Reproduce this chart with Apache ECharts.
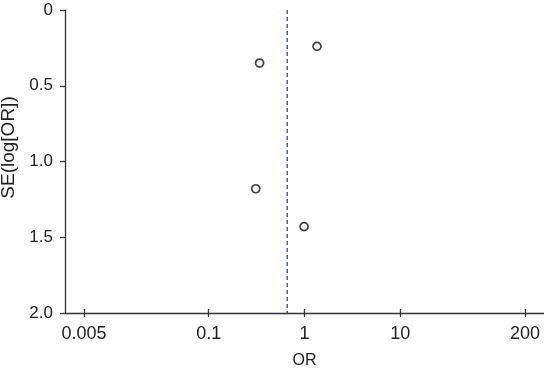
<!DOCTYPE html>
<html>
<head>
<meta charset="utf-8">
<script src="https://cdn.jsdelivr.net/npm/echarts@6/dist/echarts.min.js"></script>
<style>
html, body { margin: 0; padding: 0; background: #fff; }
#chart { width: 544px; height: 373px; }
</style>
</head>
<body>
<div id="chart"></div>
<script>
// funnel plot data (odds ratio vs standard error)
var studyOR = [1.35, 0.34, 0.31, 0.99];
var studySE = [0.24, 0.35, 1.18, 1.43];
var xTicks = [0.005, 0.1, 1, 10, 200];
var yTicks = [0, 0.5, 1.0, 1.5, 2.0];
var pooledOR = 0.66;

var points = [];
for (var i = 0; i < studyOR.length; i++) {
    points.push([Math.log10(studyOR[i]), studySE[i]]);
}
var xTickLogs = xTicks.map(function (v) { return Math.log10(v); });
var pooledLine = [
    [Math.log10(pooledOR), yTicks[0]],
    [Math.log10(pooledOR), yTicks[yTicks.length - 1]]
];

var mychart = echarts.init(document.getElementById('chart'));
var font = 'Liberation Sans, Arial, sans-serif';
var axisColor = '#333';
var gridHeight = 373 - 10 - 60;
var option = {
    animation: false,
    grid: { left: 65, right: 0, top: 10, bottom: 60, outerBoundsMode: 'none', containLabel: false },
    xAxis: [
        {
            type: 'value',
            min: -2.5,
            max: 2.5,
            name: 'OR',
            nameLocation: 'middle',
            nameGap: 40,
            nameTextStyle: { color: '#222', fontSize: 16, fontFamily: font },
            splitLine: { show: false },
            axisLine: { show: true, onZero: false, lineStyle: { color: axisColor, width: 1.3 } },
            axisTick: {
                show: true,
                customValues: xTickLogs,
                length: 4,
                lineStyle: { color: axisColor, width: 1.3 }
            },
            axisLabel: {
                customValues: xTickLogs,
                color: '#222',
                fontSize: 18,
                fontFamily: font,
                margin: 12,
                formatter: function (v) {
                    var idx = xTickLogs.findIndex(function (t) { return Math.abs(t - v) < 1e-6; });
                    return idx >= 0 ? String(xTicks[idx]) : '';
                }
            }
        },
        {
            // same scale moved down onto the bottom line, draws the upward half of the ticks
            type: 'value',
            position: 'top',
            offset: -gridHeight,
            min: -2.5,
            max: 2.5,
            splitLine: { show: false },
            axisLine: { show: false, onZero: false },
            axisTick: {
                show: true,
                customValues: xTickLogs,
                length: 4,
                lineStyle: { color: axisColor, width: 1.3 }
            },
            axisLabel: { show: false }
        }
    ],
    yAxis: {
        type: 'value',
        inverse: true,
        min: 0,
        max: 2,
        interval: 0.5,
        name: 'SE(log[OR])',
        nameLocation: 'middle',
        nameGap: 38,
        nameTextStyle: { color: '#222', fontSize: 19, fontFamily: font, padding: [0, 0, 0, 28] },
        splitLine: { show: false },
        axisLine: { show: true, onZero: false, lineStyle: { color: axisColor, width: 1.3 } },
        axisTick: { show: true, length: 5, lineStyle: { color: axisColor, width: 1.3 } },
        axisLabel: {
            color: '#222',
            fontSize: 17,
            fontFamily: font,
            margin: 12,
            formatter: function (v) {
                return v === 0 ? '0' : v.toFixed(1);
            }
        }
    },
    series: [
        {
            type: 'line',
            data: pooledLine,
            symbol: 'none',
            silent: true,
            lineStyle: { color: '#2233ff', type: [4, 3], width: 1.3 },
            z: 1
        },
        {
            type: 'scatter',
            data: points,
            symbol: 'circle',
            symbolSize: 8,
            itemStyle: { color: '#fff', borderColor: '#111', borderWidth: 1.7 },
            z: 3
        }
    ]
};
mychart.setOption(option);
</script>
</body>
</html>
